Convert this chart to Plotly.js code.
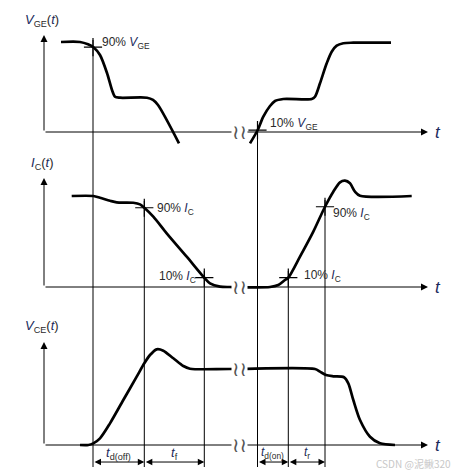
<!DOCTYPE html>
<html><head><meta charset="utf-8">
<script src="https://cdn.plot.ly/plotly-3.0.1.min.js"></script>
<style>html,body{margin:0;padding:0;background:#fff}</style>
</head><body><div id="chart" style="width:453px;height:474px"></div>
<script>
// time axis (arbitrary units)
const vgeT = [61,80,88,94,100,107,112,115,120,147,153,158,179, null, 250,257.7,263.3,270,275,283.3,311.7,315,320,326.7,331.7,336.7,343.3,353.3,391];
const vgeV = [1.0,1.0,0.974,0.937,0.856,0.656,0.467,0.392,0.381,0.381,0.356,0.30,-0.126, null, -0.126,0.022,0.17,0.289,0.344,0.367,0.367,0.392,0.541,0.763,0.892,0.959,0.986,0.992,0.992];
const icT = [71.7,93.3,100,110,116.7,133.3,140,144.3,153.3,166.7,186.7,204.3,210,220,230,270,278.3,285,288.3,300,313.3,325,333.3,340,345,350,355,360,411.7];
const icV = [1.0,1.0,0.981,0.948,0.930,0.926,0.908,0.871,0.773,0.590,0.333,0.102,0.040,0.004,0,0,0.022,0.077,0.102,0.333,0.608,0.882,1.047,1.150,1.168,1.139,1.047,1.003,1.0];
const vceT = [80,88.3,93.3,100,110,123.3,136.7,144.3,150,156.7,163.3,173.3,183.3,190,230,315,320,326,333.3,344,348.3,353.3,360,370,380,395];
const vceV = [0,0,0.022,0.088,0.285,0.592,0.899,1.075,1.184,1.259,1.241,1.141,1.039,1.004,1.0,1.0,0.965,0.921,0.904,0.891,0.812,0.592,0.329,0.109,0.022,0];
// measurement instants
const tOffStart = 93, tFall90 = 144.3, tFall10 = 204.3, tOnStart = 257.5, tRise10 = 288.3, tRise90 = 325;
const crossVge = {t:[tOffStart, tOnStart], v:[0.944, 0.02]};
const crossIc = {t:[tFall90, tFall10, tRise10, tRise90], v:[0.871, 0.102, 0.102, 0.882]};
const timeLabels = ['t<sub>d(off)</sub>','t<sub>f</sub>','t<sub>d(on)</sub>','t<sub>r</sub>'];
const breakT = 239;

const H = 474;
const pf = py => 1 - py/H;  // pixel row -> paper fraction
const NAVY = '#1b2a5c', TXT = '#2a2a2a';
const FONT = 'Liberation Sans, Arial, sans-serif';

const line = {color:'#000', width:2.7, shape:'spline', smoothing:0.8};
const crossMk = {symbol:'cross-thin-open', size:13, color:'#000', line:{color:'#000', width:1.2}};
const traces = [
  {x:vgeT, y:vgeV, xaxis:'x', yaxis:'y', mode:'lines', line:line, connectgaps:false},
  {x:icT, y:icV, xaxis:'x', yaxis:'y2', mode:'lines', line:line},
  {x:vceT, y:vceV, xaxis:'x', yaxis:'y3', mode:'lines', line:line},
  {x:crossVge.t, y:crossVge.v, xaxis:'x', yaxis:'y', mode:'markers', marker:crossMk},
  {x:crossIc.t, y:crossIc.v, xaxis:'x', yaxis:'y2', mode:'markers', marker:crossMk}
];

const ax = (dom, rng) => ({domain:dom, range:rng, visible:false, fixedrange:true});
const layout = {
  width:453, height:474, margin:{l:0,r:0,t:0,b:0},
  paper_bgcolor:'#fff', plot_bgcolor:'#fff', showlegend:false,
  font:{family:FONT, color:TXT},
  xaxis:{range:[0,453], visible:false, fixedrange:true},
  yaxis: ax([pf(155), 1], [(132-155)/90, 132/90]),
  yaxis2: ax([pf(305), pf(155)], [(287-305)/91, (287-155)/91]),
  yaxis3: ax([0, pf(305)], [(445-474)/76, (445-305)/76]),
  shapes:[], annotations:[]
};

// vertical marker lines
[[tOffStart,40],[tFall90,201],[tFall10,271],[tOnStart,122],[tRise10,271],[tRise90,200]].forEach(([t,top])=>{
  layout.shapes.push({type:'line', xref:'x', yref:'paper', x0:t, x1:t, y0:pf(467), y1:pf(top), line:{color:'#000', width:1}});
});

// axes with arrows
const axesDef = [['y',1.078],['y2',1.198],['y3',1.355]];
axesDef.forEach(([ya,top])=>{
  layout.annotations.push({xref:'x', yref:ya, axref:'x', ayref:ya, x:44, y:top, ax:44, ay:0, showarrow:true, arrowhead:2, arrowsize:1.4, arrowwidth:1, arrowcolor:'#000', text:'', standoff:0});
  layout.annotations.push({xref:'x', yref:ya, axref:'x', ayref:ya, x:428, y:0, ax:44, ay:0, showarrow:true, arrowhead:2, arrowsize:1.4, arrowwidth:1, arrowcolor:'#000', text:'', standoff:0});
  layout.annotations.push({xref:'x', yref:ya, x:433, y:0, xanchor:'left', yanchor:'middle', showarrow:false, text:'<i>t</i>', font:{size:17, color:NAVY}});
});

// break symbols
[['y',0],['y2',0],['y3',1],['y3',0]].forEach(([ya,v])=>{
  layout.annotations.push({xref:'x', yref:ya, x:breakT, y:v, showarrow:false, text:'≀≀', bgcolor:'#fff', borderpad:0, font:{family:'DejaVu Sans, sans-serif', size:20, color:'#555'}});
});

const lab = (x, py, text, xa, size) => layout.annotations.push({xref:'x', yref:'paper', x:x, y:pf(py), xanchor:xa||'left', yanchor:'middle', showarrow:false, text:text, font:{size:size||12, color:TXT}});
const it = s => '<span style="color:'+NAVY+'"><i>'+s+'</i></span>';

lab(42, 20, it('V')+'<sub>GE</sub>('+it('t')+')', 'center', 13);
lab(42, 163, it('I')+'<sub>C</sub>('+it('t')+')', 'center', 13);
lab(42, 326, it('V')+'<sub>CE</sub>('+it('t')+')', 'center', 13);
lab(100, 43, '90% '+it('V')+'<sub>GE</sub>');
lab(268, 124, '10% '+it('V')+'<sub>GE</sub>');
lab(155, 209, '90% '+it('I')+'<sub>C</sub>');
lab(157, 277, '10% '+it('I')+'<sub>C</sub>');
lab(302, 276, '10% '+it('I')+'<sub>C</sub>');
lab(331, 214, '90% '+it('I')+'<sub>C</sub>');

// time interval arrows
const spans = [[tOffStart,tFall90],[tFall90,tFall10],[tOnStart,tRise10],[tRise10,tRise90]];
spans.forEach(([a,b],i)=>{
  layout.annotations.push({xref:'x', yref:'y3', axref:'x', ayref:'y3', x:b, y:-0.224, ax:a, ay:-0.224, showarrow:true, arrowside:'end+start', arrowhead:2, arrowsize:1.3, arrowwidth:1, arrowcolor:'#000', text:'', standoff:0, startstandoff:0});
  const lt = timeLabels[i].replace(/^t/, it('t'));
  lab((a+b)/2, 453, lt, 'center', i<2?13:12);
});

// watermark
layout.annotations.push({xref:'paper', yref:'paper', x:1, y:pf(463), xanchor:'right', yanchor:'middle', showarrow:false, text:'CSDN @泥鳅320', font:{family:'Noto Sans CJK SC, sans-serif', size:10, color:'#c8c8c8'}});

Plotly.newPlot('chart', traces, layout, {staticPlot:true, displayModeBar:false});
</script></body></html>
